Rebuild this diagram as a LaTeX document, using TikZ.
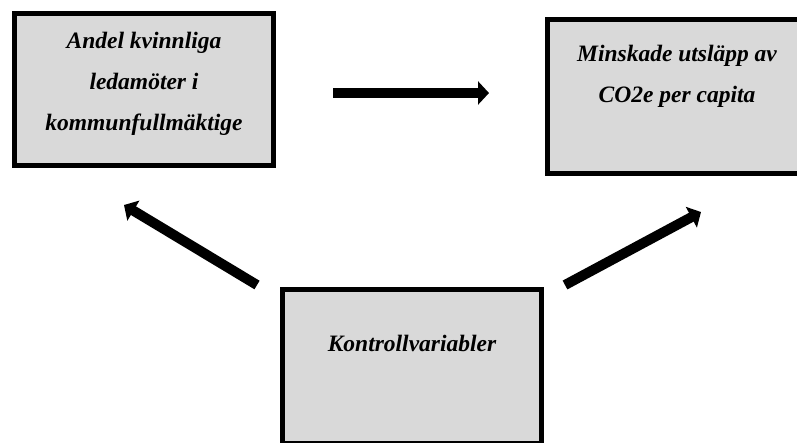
\documentclass[tikz,border=0pt]{standalone}
\usepackage{fontspec}
\setmainfont{Liberation Serif}
\usetikzlibrary{positioning}
\usetikzlibrary{arrows.meta}

\definecolor{boxgray}{HTML}{D9D9D9}

\begin{document}
\begin{tikzpicture}[
    x=1pt, y=-1pt,
    factor/.style={rectangle, draw=black, line width=5pt, fill=boxgray, inner sep=0pt,
                   minimum width=259pt, minimum height=154pt},
    caption/.style={font=\fontsize{23.5}{41}\selectfont\bfseries\itshape, align=center,
                    inner sep=0pt, anchor=base},
    effect/.style={line width=10pt, -{Triangle[length=11pt, width=23pt]}}
]
    \useasboundingbox (0,0) rectangle (797,442);
    \clip (0,0) rectangle (797,442);

    % --- Box A (top left): andel kvinnor
    \node[factor, minimum height=152pt] (kvinnor) at (144, 89.5) {};
    \node[caption] (kvinnortext) at (144, 130)
        {Andel kvinnliga\\ledamöter i\\kommunfullmäktige};

    % --- Box B (top right): utslapp
    \node[factor] (utslapp) at (677, 96.5) {};
    \node[caption] (utslapptext) at (677, 102)
        {Minskade utsläpp av\\CO2e per capita};

    % --- Box C (bottom): kontrollvariabler
    \node[factor] (kontroll) at (412, 366.5) {};
    \node[caption] (kontrolltext) at (412, 351) {Kontrollvariabler};

    % --- arrow ends
    \coordinate (hstart) at (333, 93);
    \coordinate (hend)   at (489, 93);
    \coordinate (lstart) at (257, 285);
    \coordinate (lend)   at (124, 205);
    \coordinate (rstart) at (565, 285);
    \coordinate (rend)   at (701, 212);

    \draw[effect] (hstart) -- (hend);
    \draw[effect] (lstart) -- (lend);
    \draw[effect] (rstart) -- (rend);

\end{tikzpicture}
\end{document}
